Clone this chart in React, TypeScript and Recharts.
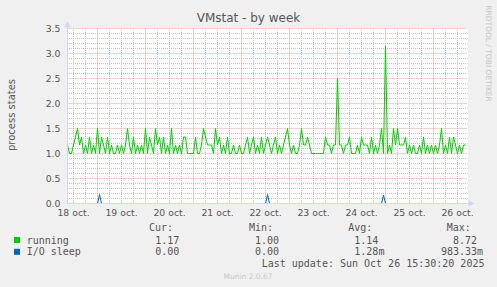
import { CartesianGrid, Line, LineChart, ReferenceLine, XAxis, YAxis } from 'recharts';

// hourly samples, week starting 18 oct 09:00
const runningValues = [
  1.17, 1.0, 1.0, 1.17, 1.33, 1.5, 1.17, 1.33, 1.0, 1.17, 1.0, 1.33, 1.0, 1.17, 1.0,
  1.5, 1.0, 1.33, 1.17, 1.0, 1.33, 1.0, 1.17, 1.0, 1.0, 1.17, 1.0, 1.17, 1.0, 1.17,
  1.5, 1.17, 1.0, 1.33, 1.0, 1.17, 1.0, 1.17, 1.0, 1.5, 1.0, 1.33, 1.17, 1.0, 1.5,
  1.17, 1.33, 1.0, 1.33, 1.0, 1.17, 1.0, 1.5, 1.0, 1.17, 1.0, 1.17, 1.0, 1.33, 1.33,
  1.0, 1.0, 1.0, 1.0, 1.33, 1.0, 1.0, 1.17, 1.5, 1.33, 1.17, 1.17, 1.17, 1.0, 1.5,
  1.17, 1.33, 1.0, 1.17, 1.0, 1.33, 1.0, 1.0, 1.17, 1.0, 1.0, 1.17, 1.0, 1.0, 1.17,
  1.33, 1.0, 1.17, 1.33, 1.0, 1.17, 1.0, 1.33, 1.0, 1.17, 1.33, 1.17, 1.0, 1.17, 1.33,
  1.0, 1.17, 1.0, 1.17, 1.33, 1.5, 1.17, 1.0, 1.17, 1.0, 1.0, 1.17, 1.5, 1.17, 1.17,
  1.33, 1.17, 1.0, 1.0, 1.0, 1.0, 1.0, 1.0, 1.0, 1.33, 1.17, 1.17, 1.0, 1.17, 1.17,
  2.5, 1.17, 1.17, 1.0, 1.17, 1.17, 1.33, 1.0, 1.0, 1.0, 1.17, 1.0, 1.33, 1.17, 1.17,
  1.17, 1.0, 1.33, 1.0, 1.17, 1.0, 1.17, 1.5, 1.0, 3.15, 1.0, 1.17, 1.0, 1.5, 1.17,
  1.5, 1.17, 1.17, 1.17, 1.33, 1.0, 1.17, 1.0, 1.17, 1.0, 1.0, 1.17, 1.0, 1.33, 1.0,
  1.17, 1.0, 1.17, 1.0, 1.17, 1.0, 1.17, 1.5, 1.0, 1.17, 1.0, 1.33, 1.0, 1.33, 1.17,
  1.0, 1.17, 1.0, 1.17, 1.17,
];

const ioHours = [0, 15, 16, 17, 99, 100, 101, 157, 158, 159, 199];
const ioValues = [0, 0, 0.18, 0, 0, 0.18, 0, 0, 0.17, 0, 0];

const dayLabels = ['18 oct.', '19 oct.', '20 oct.', '21 oct.', '22 oct.', '23 oct.', '24 oct.', '25 oct.', '26 oct.'];
const dayLabelHours = [3, 27, 51, 75, 99, 123, 147, 171, 195];
const midnightHours = [15, 39, 63, 87, 111, 135, 159, 183];
const yTicks = [0, 0.5, 1, 1.5, 2, 2.5, 3, 3.5];

// minor grid: every 6 h and every 0.1, skipping where a major line sits
const sixHourLines = Array.from({ length: 33 }, (_, i) => 3 + i * 6).filter((h) => !midnightHours.includes(h));
const yMinor = Array.from({ length: 35 }, (_, i) => i + 1)
  .filter((n) => n % 5 !== 0)
  .map((n) => n / 10);

const legendRows = [
  { name: 'running', color: '#00cc00', cur: '1.17', min: '1.00', avg: '1.14', max: '8.72' },
  { name: 'I/O sleep', color: '#0066b3', cur: '0.00', min: '0.00', avg: '1.28m', max: '983.33m' },
];

const data = runningValues.map((v, i) => ({ hour: i, running: v }));
const ioData = ioHours.map((h, i) => ({ hour: h, io: ioValues[i] }));

const W = 497;
const H = 287;
// half-pixel edges keep 1px grid lines sharp
const LEFT = 67.5;
const RIGHT = 467.5;
const TOP = 28.5;
const BOTTOM = 203.5;
const AXIS = '#cfd6f8';
const MGRID = '#f0a0a0';
const SANS = 'DejaVu Sans, sans-serif';
const MONO = 'DejaVu Sans Mono, monospace';

export default function App() {
  return (
    <div style={{ position: 'absolute', left: 0, top: 0, width: W, height: H, background: '#f0f0f0' }}>
      {/* white canvas behind the plot area */}
      <div
        style={{
          position: 'absolute',
          left: 67,
          top: 28,
          width: 401,
          height: 176,
          background: '#ffffff',
        }}
      />
      <div style={{ position: 'absolute', left: 0, top: 0 }}>
        <LineChart
          width={W}
          height={H}
          data={data}
          margin={{ top: TOP, right: W - RIGHT, bottom: H - BOTTOM - 20, left: LEFT - 40 }}
        >
          <CartesianGrid
            stroke="#c4c4c4"
            strokeDasharray="1 1"
            strokeDashoffset={0.5}
            horizontalValues={yMinor}
            verticalValues={sixHourLines}
          />
          {yTicks.slice(1).map((v) => (
            <ReferenceLine key={`y${v}`} y={v} stroke={MGRID} strokeDasharray="1 1" />
          ))}
          {midnightHours.map((h) => (
            <ReferenceLine key={`x${h}`} x={h} stroke={MGRID} strokeDasharray="1 1" />
          ))}
          <XAxis
            dataKey="hour"
            type="number"
            domain={[0, 200]}
            allowDataOverflow
            ticks={dayLabelHours}
            tickFormatter={(h: number) => dayLabels[dayLabelHours.indexOf(h)]}
            height={20}
            tickLine={false}
            tickSize={4}
            tickMargin={2}
            interval={0}
            axisLine={{ stroke: AXIS }}
            tick={{ fontSize: 9.3, fill: '#555', fontFamily: SANS }}
          />
          <YAxis
            domain={[0, 3.5]}
            allowDataOverflow
            ticks={yTicks}
            tickFormatter={(v: number) => v.toFixed(1)}
            width={40}
            tickLine={false}
            tickSize={5}
            tickMargin={2}
            interval={0}
            axisLine={{ stroke: AXIS }}
            tick={{ fontSize: 9.3, fill: '#555', fontFamily: SANS }}
          />
          <Line
            dataKey="running"
            type="linear"
            stroke="#00cc00"
            strokeWidth={1}
            dot={false}
            isAnimationActive={false}
          />
          <Line
            data={ioData}
            dataKey="io"
            type="linear"
            stroke="#0066b3"
            strokeWidth={1}
            dot={false}
            isAnimationActive={false}
          />
        </LineChart>
      </div>
      <svg
        width={W}
        height={H}
        style={{ position: 'absolute', left: 0, top: 0, pointerEvents: 'none' }}
      >
        {/* axis arrows */}
        <line x1={LEFT} y1={TOP} x2={LEFT} y2={22} stroke={AXIS} />
        <polygon points={`${LEFT - 3},${TOP - 1} ${LEFT + 3},${TOP - 1} ${LEFT},${21}`} fill={AXIS} />
        <line x1={RIGHT} y1={BOTTOM} x2={RIGHT + 4} y2={BOTTOM} stroke={AXIS} />
        <polygon points={`${RIGHT + 1},${BOTTOM - 3} ${RIGHT + 1},${BOTTOM + 3} ${RIGHT + 7},${BOTTOM}`} fill={AXIS} />

        <text x={248.5} y={18} textAnchor="middle" dominantBaseline="central" fontSize={12} fill="#555" fontFamily={SANS}>
          VMstat - by week
        </text>
        <text
          x={11}
          y={115}
          textAnchor="middle"
          dominantBaseline="central"
          fontSize={10}
          fill="#555"
          fontFamily={SANS}
          transform="rotate(-90 11 115)"
        >
          process states
        </text>
        <text
          x={488}
          y={53.5}
          textAnchor="middle"
          dominantBaseline="central"
          fontSize={7.5}
          fill="#c4c4c4"
          fontFamily={SANS}
          transform="rotate(90 488 53.5)"
        >
          RRDTOOL / TOBI OETIKER
        </text>

        <g fontFamily={MONO} fontSize={10} fill="#555" dominantBaseline="central">
          <text x={149} y={227.3}>Cur:</text>
          <text x={249} y={227.3}>Min:</text>
          <text x={348.3} y={227.3}>Avg:</text>
          <text x={446.7} y={227.3}>Max:</text>
          {legendRows.map((r, i) => {
            const y = 240 + i * 11.8;
            return (
              <g key={r.name}>
                <rect x={14} y={y - 3} width={6} height={6} fill={r.color} />
                <text x={26.7} y={y}>{r.name}</text>
                <text x={155.3} y={y}>{r.cur}</text>
                <text x={255} y={y}>{r.min}</text>
                <text x={354.3} y={y}>{r.avg}</text>
                <text x={477 - r.max.replace('m', '').length * 6.02} y={y}>{r.max}</text>
              </g>
            );
          })}
          <text x={261.7} y={263.3}>Last update: Sun Oct 26 15:30:20 2025</text>
        </g>
        <text x={248} y={276} textAnchor="middle" dominantBaseline="central" fontSize={7.5} fill="#c8c8c8" fontFamily={SANS}>
          Munin 2.0.67
        </text>
      </svg>
    </div>
  );
}
